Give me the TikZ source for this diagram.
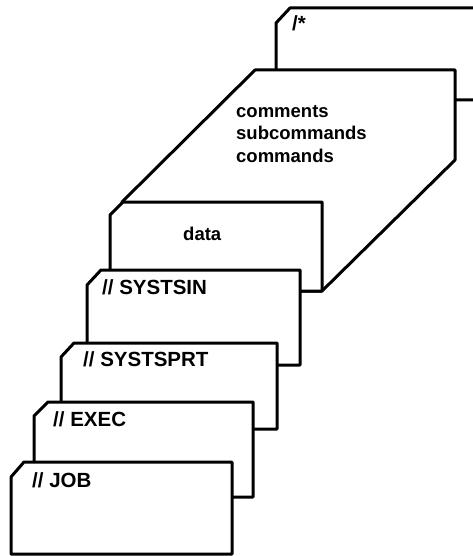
\documentclass[tikz,border=0pt]{standalone}
\usepackage{fontspec}
\setmainfont{Liberation Sans}
\begin{document}
\begin{tikzpicture}[x=1pt,y=-1pt,
  card/.style={draw=black,fill=white,line width=3pt,line join=round},
  caplabel/.style={anchor=base west,inner sep=0pt,font=\fontsize{20.5}{24}\selectfont\bfseries},
  lowlabel/.style={anchor=base west,inner sep=0pt,font=\fontsize{18.5}{22}\selectfont\bfseries}]
\useasboundingbox (0,0) rectangle (473,556);
\clip (0,0) rectangle (473,556);

% rearmost card, running off the right edge
\draw[card] (276,104) -- (276,23) -- (290,8) -- (495,8) -- (495,100) -- (276,100);
% thick deck of command cards
\draw[card] (255,70) -- (455,70) -- (455,160) -- (322,291) -- (122,291) -- (122,202) -- cycle;
% data card
\draw[card] (110,291) -- (110,215) -- (123,202) -- (322,202) -- (322,291) -- cycle;
% // SYSTSIN
\draw[card] (87,365) -- (87,285) -- (101,270) -- (300,270) -- (300,365) -- cycle;
% // SYSTSPRT
\draw[card] (61,429) -- (61,357) -- (74,343) -- (277,343) -- (277,429) -- cycle;
% // EXEC
\draw[card] (34,497) -- (34,416) -- (48,402) -- (253,402) -- (253,497) -- cycle;
% // JOB
\draw[card] (11,554) -- (11,477) -- (24,462) -- (232,462) -- (232,554) -- cycle;

\node[caplabel] (delim) at (292,31) {/*};
\node[lowlabel] (comments) at (236,118) {comments};
\node[lowlabel] (subcmds) at (236,140) {subcommands};
\node[lowlabel] (cmds) at (236,163) {commands};
\node[lowlabel] (data) at (183,240) {data};
\node[caplabel] (systsin) at (102,294) {// SYSTSIN};
\node[caplabel] (systsprt) at (83,366) {// SYSTSPRT};
\node[caplabel] (exec) at (53,426) {// EXEC};
\node[caplabel] (job) at (32,487) {// JOB};
\end{tikzpicture}
\end{document}
